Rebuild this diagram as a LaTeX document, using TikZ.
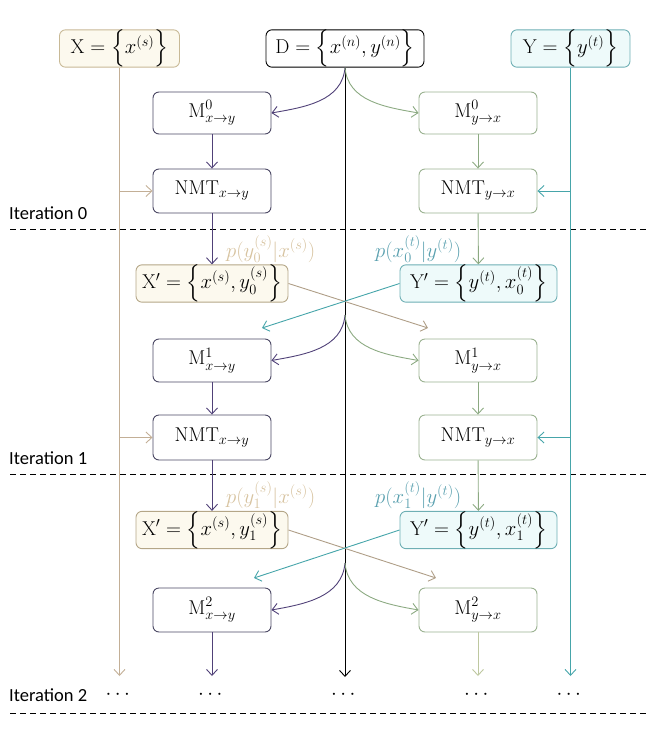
\documentclass[tikz,border=0pt]{standalone}
\usepackage{fontspec}
\usepackage{amsmath}
\newfontfamily\itfont{Carlito}
\usetikzlibrary{arrows.meta}
\definecolor{tanline}{RGB}{195,175,150}
\definecolor{tanlabel}{RGB}{215,195,160}
\definecolor{tanborder}{RGB}{200,185,150}
\definecolor{tanfill}{RGB}{252,249,238}
\definecolor{tealline}{RGB}{70,165,170}
\definecolor{tealborder}{RGB}{110,175,180}
\definecolor{tealfill}{RGB}{238,250,250}
\definecolor{teallabel}{RGB}{90,160,175}
\definecolor{purp}{RGB}{80,65,120}
\definecolor{purpborder}{RGB}{75,72,100}
\definecolor{grn}{RGB}{140,170,130}
\definecolor{grnborder}{RGB}{155,178,145}
\definecolor{lightgrn}{RGB}{190,200,160}
\begin{document}
\begin{tikzpicture}[x=1pt,y=-1pt,
  every node/.style={font=\fontsize{20}{24}\selectfont, inner sep=0pt},
  box/.style={draw, rounded corners=6pt, line width=0.9pt, minimum height=#1, align=center},
  box/.default=35pt,
  arr/.style={line width=0.9pt, -{Straight Barb[length=6pt,width=11pt,line width=0.9pt]}},
  itlabel/.style={anchor=west, font=\itfont\fontsize{18.5}{21}\selectfont},
  sep/.style={line width=0.9pt, dash pattern=on 6pt off 4pt},
  plabel/.style={anchor=west, font=\fontsize{20}{24}\selectfont},
  dotlabel/.style={font=\fontsize{22}{26}\selectfont}
]
\useasboundingbox (0,0) rectangle (664,729);
% top data boxes
\node[box, draw=tanborder, fill=tanfill, minimum width=120pt] (X) at (119.5,48.5) {$\mathrm{X}=\Big\{x^{(s)}\Big\}$};
\node[box, draw=black, fill=white, minimum width=158pt] (D) at (345,48.5) {$\mathrm{D}=\Big\{x^{(n)},y^{(n)}\Big\}$};
\node[box, draw=tealborder, fill=tealfill, minimum width=119pt] (Y) at (570.5,48.5) {$\mathrm{Y}=\Big\{y^{(t)}\Big\}$};
% iteration 0
\node[box=42pt, draw=purpborder, fill=white, minimum width=118pt] (M0a) at (212,113) {$\mathrm{M}^{0}_{x\to y}$};
\node[box=42pt, draw=grnborder, fill=white, minimum width=118pt] (M0b) at (478,113) {$\mathrm{M}^{0}_{y\to x}$};
\node[box=44pt, draw=purpborder, fill=white, minimum width=118pt] (N0a) at (212,191) {$\mathrm{NMT}_{x\to y}$};
\node[box=44pt, draw=grnborder, fill=white, minimum width=118pt] (N0b) at (478,191) {$\mathrm{NMT}_{y\to x}$};
\node[box, draw=tanborder!90!black, fill=tanfill, minimum width=152pt] (Xp0) at (212,283.5) {$\mathrm{X}'=\left\{x^{(s)},y^{(s)}_{0}\right\}$};
\node[box, draw=tealborder, fill=tealfill, minimum width=157pt] (Yp0) at (478.5,283.5) {$\mathrm{Y}'=\left\{y^{(t)},x^{(t)}_{0}\right\}$};
% iteration 1
\node[box=43pt, draw=purpborder, fill=white, minimum width=118pt] (M1a) at (212,360.5) {$\mathrm{M}^{1}_{x\to y}$};
\node[box=43pt, draw=grnborder, fill=white, minimum width=118pt] (M1b) at (478,360.5) {$\mathrm{M}^{1}_{y\to x}$};
\node[box=45pt, draw=purpborder, fill=white, minimum width=118pt] (N1a) at (212,437.5) {$\mathrm{NMT}_{x\to y}$};
\node[box=45pt, draw=grnborder, fill=white, minimum width=118pt] (N1b) at (478,437.5) {$\mathrm{NMT}_{y\to x}$};
\node[box, draw=tanborder!90!black, fill=tanfill, minimum width=152pt] (Xp1) at (212,530) {$\mathrm{X}'=\left\{x^{(s)},y^{(s)}_{1}\right\}$};
\node[box, draw=tealborder, fill=tealfill, minimum width=157pt] (Yp1) at (478.5,530) {$\mathrm{Y}'=\left\{y^{(t)},x^{(t)}_{1}\right\}$};
% iteration 2
\node[box=44pt, draw=purpborder, fill=white, minimum width=118pt] (M2a) at (212,610) {$\mathrm{M}^{2}_{x\to y}$};
\node[box=44pt, draw=grnborder, fill=white, minimum width=118pt] (M2b) at (478,610) {$\mathrm{M}^{2}_{y\to x}$};
% dots
\node[dotlabel] (d1) at (119.5,695) {$\cdots$};
\node[dotlabel] (d2) at (212,695) {$\cdots$};
\node[dotlabel] (d3) at (345,695) {$\cdots$};
\node[dotlabel] (d4) at (478,695) {$\cdots$};
\node[dotlabel] (d5) at (570.5,695) {$\cdots$};
% end coordinates
\coordinate (eX) at (119.5,676);
\coordinate (eD) at (345,677);
\coordinate (eY) at (570.5,676);
\coordinate (ea) at (212,676);
\coordinate (eb) at (478,676);
\coordinate (s1) at (345,315);
\coordinate (s2) at (345,563);
\coordinate (c0a) at (428,328);
\coordinate (c0b) at (262,328);
\coordinate (c1a) at (436,578);
\coordinate (c1b) at (254,578);
% iteration labels and separators
\node[itlabel] (it0) at (9,213) {Iteration 0};
\node[itlabel] (it1) at (9,458) {Iteration 1};
\node[itlabel] (it2) at (9,695) {Iteration 2};
\coordinate (l0a) at (10,229); \coordinate (l0b) at (646,229);
\coordinate (l1a) at (10,474); \coordinate (l1b) at (646,474);
\coordinate (l2a) at (10,713); \coordinate (l2b) at (646,713);
\draw[sep] (l0a) -- (l0b);
\draw[sep] (l1a) -- (l1b);
\draw[sep] (l2a) -- (l2b);
% probability labels
\node[plabel, text=tanlabel] (p0a) at (226,249) {$p(y^{(s)}_{0}|x^{(s)})$};
\node[plabel, text=teallabel] (p0b) at (375,249) {$p(x^{(t)}_{0}|y^{(t)})$};
\node[plabel, text=tanlabel] (p1a) at (226,495) {$p(y^{(s)}_{1}|x^{(s)})$};
\node[plabel, text=teallabel] (p1b) at (375,495) {$p(x^{(t)}_{1}|y^{(t)})$};
% long vertical lines
\draw[arr, tanline] (X.south) -- (eX);
\draw[arr, black] (D.south) -- (eD);
\draw[arr, tealline] (Y.south) -- (eY);
% branches to NMT
\draw[arr, tanline] (X.south |- N0a.west) -- (N0a.west);
\draw[arr, tanline] (X.south |- N1a.west) -- (N1a.west);
\draw[arr, tealline] (Y.south |- N0b.east) -- (N0b.east);
\draw[arr, tealline] (Y.south |- N1b.east) -- (N1b.east);
% curves from D
\draw[arr, purp] (D.south) to[out=-95,in=10] (M0a.east);
\draw[arr, grn] (D.south) to[out=-85,in=170] (M0b.west);
\draw[arr, purp] (s1) to[out=-95,in=10] (M1a.east);
\draw[arr, grn] (s1) to[out=-85,in=170] (M1b.west);
\draw[arr, purp] (s2) to[out=-95,in=10] (M2a.east);
\draw[arr, grn] (s2) to[out=-85,in=170] (M2b.west);
% vertical chains
\draw[arr, purp] (M0a) -- (N0a);
\draw[arr, purp] (N0a) -- (Xp0);
\draw[arr, grn] (M0b) -- (N0b);
\draw[arr, grn] (N0b) -- (Yp0);
\draw[arr, purp] (M1a) -- (N1a);
\draw[arr, purp] (N1a) -- (Xp1);
\draw[arr, grn] (M1b) -- (N1b);
\draw[arr, grn] (N1b) -- (Yp1);
\draw[arr, purp] (M2a) -- (ea);
\draw[arr, lightgrn] (M2b) -- (eb);
% cross arrows
\draw[arr, tanline!90!black] (Xp0.east) -- (c0a);
\draw[arr, tealline] (Yp0.west) -- (c0b);
\draw[arr, tanline!90!black] (Xp1.east) -- (c1a);
\draw[arr, tealline] (Yp1.west) -- (c1b);
\end{tikzpicture}
\end{document}
